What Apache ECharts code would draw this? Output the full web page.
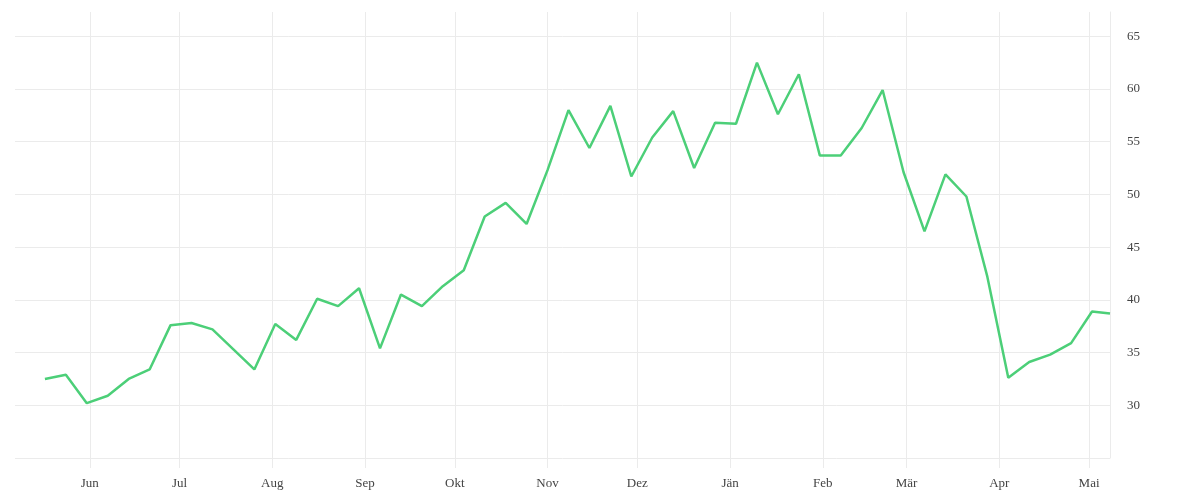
<!DOCTYPE html>
<html>
<head>
<meta charset="utf-8">
<script src="https://cdn.jsdelivr.net/npm/echarts@6/dist/echarts.min.js"></script>
<style>
  html, body { margin: 0; padding: 0; background: #ffffff; }
  #chart { width: 1200px; height: 500px; }
</style>
</head>
<body>
<div id="chart"></div>
<script>
// Weekly observation dates
const dates = [
  '2022-05-17','2022-05-24','2022-05-31','2022-06-07','2022-06-14','2022-06-21','2022-06-28',
  '2022-07-05','2022-07-12','2022-07-19','2022-07-26','2022-08-02','2022-08-09','2022-08-16',
  '2022-08-23','2022-08-30','2022-09-06','2022-09-13','2022-09-20','2022-09-27','2022-10-04',
  '2022-10-11','2022-10-18','2022-10-25','2022-11-01','2022-11-08','2022-11-15','2022-11-22',
  '2022-11-29','2022-12-06','2022-12-13','2022-12-20','2022-12-27','2023-01-03','2023-01-10',
  '2023-01-17','2023-01-24','2023-01-31','2023-02-07','2023-02-14','2023-02-21','2023-02-28',
  '2023-03-07','2023-03-14','2023-03-21','2023-03-28','2023-04-04','2023-04-11','2023-04-18',
  '2023-04-25','2023-05-02','2023-05-08'
];
// Series values
const values = [
  32.5, 32.9, 30.2, 30.9, 32.5, 33.4, 37.6, 37.8, 37.2, 35.3, 33.4, 37.7, 36.2,
  40.1, 39.4, 41.1, 35.4, 40.5, 39.4, 41.3, 42.8, 47.9, 49.2, 47.2, 52.3, 58.0,
  54.4, 58.4, 51.7, 55.4, 57.9, 52.5, 56.8, 56.7, 62.5, 57.6, 61.4, 53.7, 53.7,
  56.3, 59.9, 52.1, 46.5, 51.9, 49.8, 42.2, 32.6, 34.1, 34.8, 35.9, 38.9, 38.7
];
// Month tick labels (German / Austrian)
const monthNames = ['Jän','Feb','Mär','Apr','Mai','Jun','Jul','Aug','Sep','Okt','Nov','Dez'];
const xRange = ['2022-05-07', '2023-05-08'];
const yTicks = [30, 35, 40, 45, 50, 55, 60, 65];

const chart = echarts.init(document.getElementById('chart'), null, { renderer: 'canvas' });
const fontFamily = '"Liberation Serif", "DejaVu Serif", serif';
const gridColor = '#ebebeb';
const DAY = 24 * 3600 * 1000;

chart.setOption({
  animation: false,
  backgroundColor: '#ffffff',
  grid: { left: 15, right: 90, top: 12, bottom: 42, containLabel: false },
  xAxis: {
    type: 'time',
    min: xRange[0],
    max: xRange[1],
    boundaryGap: false,
    splitNumber: 12,
    minInterval: 28 * DAY,
    maxInterval: 31 * DAY,
    axisLine: { show: false },
    axisTick: { show: true, length: 10, lineStyle: { color: gridColor, width: 1 } },
    axisLabel: {
      margin: 19,
      color: '#444',
      fontFamily: fontFamily,
      fontSize: 13,
      hideOverlap: false,
      formatter: function (v) {
        const d = new Date(v);
        return d.getDate() === 1 ? monthNames[d.getMonth()] : '';
      }
    },
    splitLine: { show: true, showMinLine: false, lineStyle: { color: gridColor, width: 1 } }
  },
  yAxis: {
    type: 'value',
    position: 'right',
    min: 25,
    max: 67.3,
    interval: 5,
    axisLine: { show: true, lineStyle: { color: gridColor, width: 1 } },
    axisTick: { show: false },
    axisLabel: {
      margin: 17,
      color: '#444',
      fontFamily: fontFamily,
      fontSize: 13,
      showMinLabel: false,
      formatter: function (v) { return yTicks.indexOf(v) >= 0 ? String(v) : ''; }
    },
    splitLine: { show: true, showMaxLine: false, lineStyle: { color: gridColor, width: 1 } }
  },
  series: [{
    type: 'line',
    data: dates.map((d, i) => [d, values[i]]),
    showSymbol: false,
    symbol: 'none',
    smooth: false,
    lineStyle: { color: '#4ccf78', width: 2.5 },
    itemStyle: { color: '#4ccf78' }
  }]
});
</script>
</body>
</html>
